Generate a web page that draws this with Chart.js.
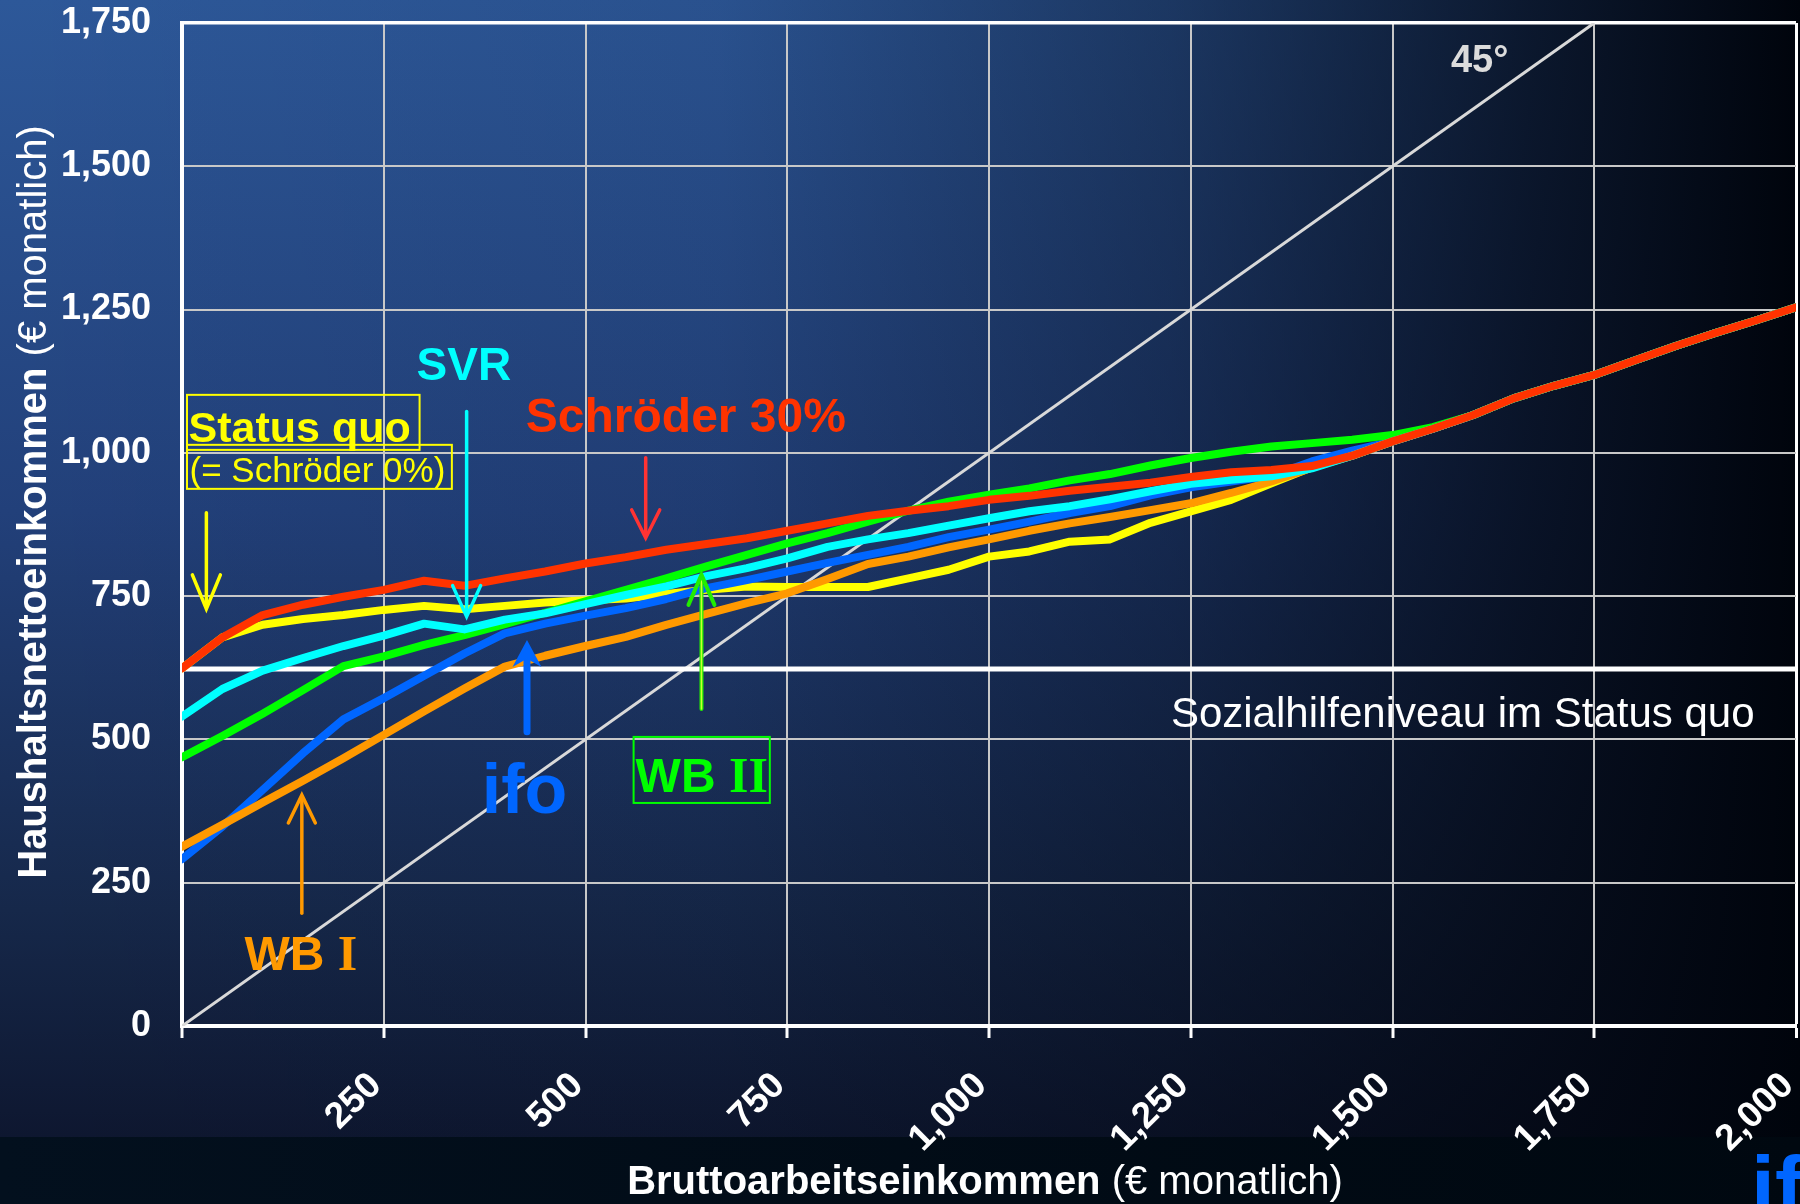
<!DOCTYPE html>
<html>
<head>
<meta charset="utf-8">
<script src="https://cdn.jsdelivr.net/npm/chart.js@4"></script>
<style>html,body{margin:0;padding:0;background:#000;}canvas{display:block;}</style>
</head>
<body>
<canvas id="c" width="1800" height="1204"></canvas>
<script>
// ---------- DATA ----------
const grossIncome = [0,50,100,150,200,250,300,350,400,450,500,550,600,650,700,750,800,850,900,950,1000,
  1050,1100,1150,1200,1250,1300,1350,1400,1450,1500,1550,1600,1650,1700,1750,1800,1850,1900,1950,2000];
const schroeder30 = [624,678,717,735,749,761,777,768,781,793,807,818,831,841,851,864,877,890,899,907,918,
  925,934,941,948,958,966,970,977,995,1020,1042,1066,1095,1117,1136,1161,1186,1209,1231,1254];
const statusQuo = [624,678,700,710,717,726,733,727,733,739,743,746,754,761,767,766,766,766,781,796,819,
  828,845,849,878,898,918,947,975,995,1020,1042,1066,1095,1117,1136,1161,1186,1209,1231,1254];
const svr = [540,588,620,642,663,681,702,692,709,720,736,752,767,785,799,816,836,849,860,873,886,
  898,907,919,933,946,953,959,973,995,1020,1042,1066,1095,1117,1136,1161,1186,1209,1231,1254];
const wb2 = [469,506,545,586,628,645,665,682,701,721,741,761,781,802,822,842,860,880,899,915,927,
  938,952,963,978,991,1002,1011,1017,1023,1031,1045,1066,1095,1117,1136,1161,1186,1209,1231,1254];
const ifo = [291,348,412,476,535,572,611,650,685,702,716,729,745,764,778,793,808,822,836,853,866,
  880,895,907,926,940,950,960,985,1004,1020,1042,1066,1095,1117,1136,1161,1186,1209,1231,1254];
const wb1 = [313,351,390,428,467,508,549,589,627,646,663,679,700,719,738,755,780,806,819,835,849,
  864,877,888,900,912,930,950,974,995,1020,1042,1066,1095,1117,1136,1161,1186,1209,1231,1254];
const diagonalX = [0, 1750];
const diagonalY = [0, 1750];
const sozialhilfeX = [0, 2000];
const sozialhilfeY = [623, 623];
const xTickLabels = ['', '250', '500', '750', '1,000', '1,250', '1,500', '1,750', '2,000'];
const yTickLabels = ['0', '250', '500', '750', '1,000', '1,250', '1,500', '1,750'];

// ---------- STYLE ----------
const SANS = '"Liberation Sans", Arial, Helvetica, sans-serif';
const SERIF = '"Liberation Serif", "Times New Roman", serif';

function pts(xs, ys) { return xs.map((x, i) => ({x: x, y: ys[i]})); }
function series(label, ys, color) {
  return {label: label, data: pts(grossIncome, ys), borderColor: color, borderWidth: 8,
    pointRadius: 0, tension: 0, fill: false, borderCapStyle: 'round', borderJoinStyle: 'round'};
}

// annotation definitions (in data units)
const texts = [
  {parts: [['45°', 'bold 38px ' + SANS]], x: 1608, y: 1665, color: '#dcdcdc', align: 'center'},
  {parts: [['SVR', 'bold 46px ' + SANS]], x: 290.7, y: 1127.4, color: '#00ffff'},
  {parts: [['Status quo', 'bold 43px ' + SANS]], x: 8.1, y: 1019.2, color: '#ffff00'},
  {parts: [['(= Schröder 0%)', '35px ' + SANS]], x: 9.3, y: 949, color: '#ffff00'},
  {parts: [['Schröder 30%', 'bold 48px ' + SANS]], x: 426, y: 1036.6, color: '#ff3300'},
  {parts: [['ifo', 'bold 70px ' + SANS]], x: 371.5, y: 371.7, color: '#0066ff'},
  {parts: [['WB ', 'bold 48px ' + SANS], ['II', 'bold 50px ' + SERIF]], x: 562.1, y: 408.9, color: '#00ff00'},
  {parts: [['WB ', 'bold 48px ' + SANS], ['I', 'bold 50px ' + SERIF]], x: 77.5, y: 97.7, color: '#ff9900'},
  {parts: [['Sozialhilfeniveau im Status quo', '42px ' + SANS]], x: 1225.4, y: 521.8, color: '#ffffff'}
];
const boxes = [
  {x1: 6.2, y1: 1101.2, x2: 294.4, y2: 1005.2, color: '#ffff00'},
  {x1: 6.2, y1: 1014, x2: 334.4, y2: 937.2, color: '#ffff00'},
  {x1: 559.6, y1: 504.4, x2: 728.4, y2: 389.2, color: '#00ff00'}
];
const arrows = [
  {x: 352.7, from: 1072, to: 714.3, color: '#00ffff', w: 3.5, half: 14, len: 31},
  {x: 30.2, from: 895.3, to: 727.7, color: '#ffff00', w: 3.5, half: 14, len: 34},
  {x: 574.6, from: 991.3, to: 851.6, color: '#ff3333', w: 3.5, half: 14, len: 28},
  {x: 427.5, from: 513.6, to: 673.6, color: '#0066ff', w: 7, half: 14.5, len: 27, filled: true},
  {x: 643.7, from: 553.2, to: 787.1, color: '#22ee00', w: 4, half: 13, len: 30, inner: '#ccff33'},
  {x: 148.5, from: 196.7, to: 403.1, color: '#ff9900', w: 3.5, half: 13.5, len: 28}
];

function drawParts(c, parts, x, y, align) {
  let total = 0;
  parts.forEach(p => { c.font = p[1]; total += c.measureText(p[0]).width; });
  let cx = align === 'center' ? x - total / 2 : x;
  c.textAlign = 'left';
  parts.forEach(p => { c.font = p[1]; c.fillText(p[0], cx, y); cx += c.measureText(p[0]).width; });
}

const bgPlugin = {
  id: 'bg',
  beforeDraw(chart) {
    const c = chart.ctx, W = chart.width, H = chart.height, band = 1137;
    c.save();
    const g = c.createLinearGradient(0, 0, 0, band);
    g.addColorStop(0, '#2d5899'); g.addColorStop(0.45, '#22407a');
    g.addColorStop(0.8, '#16284a'); g.addColorStop(1, '#0e1730');
    c.fillStyle = g; c.fillRect(0, 0, W, band);
    const h = c.createLinearGradient(0, 0, W, 0);
    h.addColorStop(0, 'rgba(2,6,16,0)'); h.addColorStop(0.4, 'rgba(2,6,16,0.08)');
    h.addColorStop(0.65, 'rgba(2,6,16,0.4)'); h.addColorStop(0.85, 'rgba(2,6,16,0.78)');
    h.addColorStop(1, 'rgba(0,4,12,1)');
    c.fillStyle = h; c.fillRect(0, 0, W, band);
    const b = c.createLinearGradient(0, 0, W, 0);
    b.addColorStop(0, '#03101e'); b.addColorStop(1, '#000810');
    c.fillStyle = b; c.fillRect(0, band, W, H - band);
    c.restore();
  }
};

const notePlugin = {
  id: 'notes',
  afterDatasetsDraw(chart) {
    const c = chart.ctx, xs = chart.scales.x, ys = chart.scales.y;
    const px = v => xs.getPixelForValue(v), py = v => ys.getPixelForValue(v);
    c.save();
    boxes.forEach(b => {
      c.strokeStyle = b.color; c.lineWidth = 2;
      c.strokeRect(px(b.x1), py(b.y1), px(b.x2) - px(b.x1), py(b.y2) - py(b.y1));
    });
    c.textBaseline = 'alphabetic';
    texts.forEach(t => { c.fillStyle = t.color; drawParts(c, t.parts, px(t.x), py(t.y), t.align); });
    arrows.forEach(a => {
      const x = px(a.x), y0 = py(a.from), y1 = py(a.to);
      const dir = y1 > y0 ? 1 : -1;
      c.strokeStyle = a.color; c.lineWidth = a.w; c.lineCap = 'round'; c.lineJoin = 'miter';
      c.beginPath(); c.moveTo(x, y0); c.lineTo(x, y1 - dir * (a.filled ? a.len * 0.8 : 2)); c.stroke();
      if (a.inner) {
        c.strokeStyle = a.inner; c.lineWidth = 1.5;
        c.beginPath(); c.moveTo(x, y0); c.lineTo(x, y1 - dir * 4); c.stroke();
        c.strokeStyle = a.color; c.lineWidth = a.w;
      }
      if (a.filled) {
        c.fillStyle = a.color;
        c.beginPath(); c.moveTo(x - a.half, y1 - dir * a.len); c.lineTo(x, y1);
        c.lineTo(x + a.half, y1 - dir * a.len); c.lineTo(x, y1 - dir * a.len * 0.7); c.closePath(); c.fill();
      } else {
        c.beginPath(); c.moveTo(x - a.half, y1 - dir * a.len); c.lineTo(x, y1);
        c.lineTo(x + a.half, y1 - dir * a.len); c.stroke();
      }
    });
    c.restore();
  },
  afterDraw(chart) {
    const c = chart.ctx;
    c.save();
    c.fillStyle = '#ffffff'; c.textBaseline = 'alphabetic';
    const xt = [['Bruttoarbeitseinkommen', 'bold 40px ' + SANS], [' (€ monatlich)', '40px ' + SANS]];
    drawParts(c, xt, 985, 1194, 'center');
    c.translate(46, 502); c.rotate(-Math.PI / 2);
    const yt = [['Haushaltsnettoeinkommen', 'bold 40px ' + SANS], [' (€ monatlich)', '40px ' + SANS]];
    drawParts(c, yt, 0, 0, 'center');
    c.restore();
    c.save();
    c.fillStyle = '#0066ff'; c.font = 'bold 86px ' + SANS; c.textBaseline = 'alphabetic'; c.textAlign = 'left';
    c.fillText('ifo', 1751, 1216);
    c.restore();
  }
};

const tickFont = {family: SANS, size: 36, weight: 'bold'};

new Chart(document.getElementById('c'), {
  type: 'line',
  data: {
    datasets: [
      series('Schröder 30%', schroeder30, '#ff3300'),
      series('SVR', svr, '#00ffff'),
      series('WB II', wb2, '#00ff00'),
      series('WB I', wb1, '#ff9900'),
      series('ifo', ifo, '#0066ff'),
      series('Status quo', statusQuo, '#ffff00'),
      {label: 'Sozialhilfeniveau', data: pts(sozialhilfeX, sozialhilfeY), borderColor: '#ffffff',
        borderWidth: 5, pointRadius: 0, tension: 0},
      {label: '45°', data: pts(diagonalX, diagonalY), borderColor: '#d9d9d9',
        borderWidth: 3, pointRadius: 0, tension: 0}
    ]
  },
  options: {
    responsive: false, animation: false, devicePixelRatio: 1,
    layout: {padding: {top: 23, right: 4, left: 0, bottom: 0}},
    plugins: {legend: {display: false}, tooltip: {enabled: false}, title: {display: false}},
    scales: {
      x: {
        type: 'linear', min: 0, max: 2000,
        ticks: {stepSize: 250, autoSkip: false, maxRotation: 45, minRotation: 45, padding: 26,
          labelOffset: -8,
          color: '#ffffff', font: {family: SANS, size: 37, weight: 'bold'},
          callback: (v, i) => xTickLabels[i]},
        grid: {
          color: ctx => (ctx.tick && ctx.tick.value === 2000) ? '#ffffff' : '#c8c8c8',
          lineWidth: ctx => (ctx.tick && ctx.tick.value === 2000) ? 3 : 2,
          tickLength: 12, tickColor: '#ffffff', tickWidth: 3
        },
        border: {color: '#ffffff', width: 4},
        afterFit: s => { s.height = 178; s.paddingLeft = 0; s.paddingRight = 0; }
      },
      y: {
        type: 'linear', min: 0, max: 1750,
        ticks: {stepSize: 250, padding: 31, color: '#ffffff', font: tickFont,
          callback: (v, i) => yTickLabels[i]},
        grid: {
          color: ctx => (ctx.tick && ctx.tick.value === 1750) ? '#ffffff' : '#c8c8c8',
          lineWidth: ctx => (ctx.tick && ctx.tick.value === 1750) ? 3.5 : 2,
          drawTicks: false
        },
        border: {color: '#ffffff', width: 4},
        afterFit: s => { s.width = 182; s.paddingTop = 0; s.paddingBottom = 0; }
      }
    }
  },
  plugins: [bgPlugin, notePlugin]
});
</script>
</body>
</html>
